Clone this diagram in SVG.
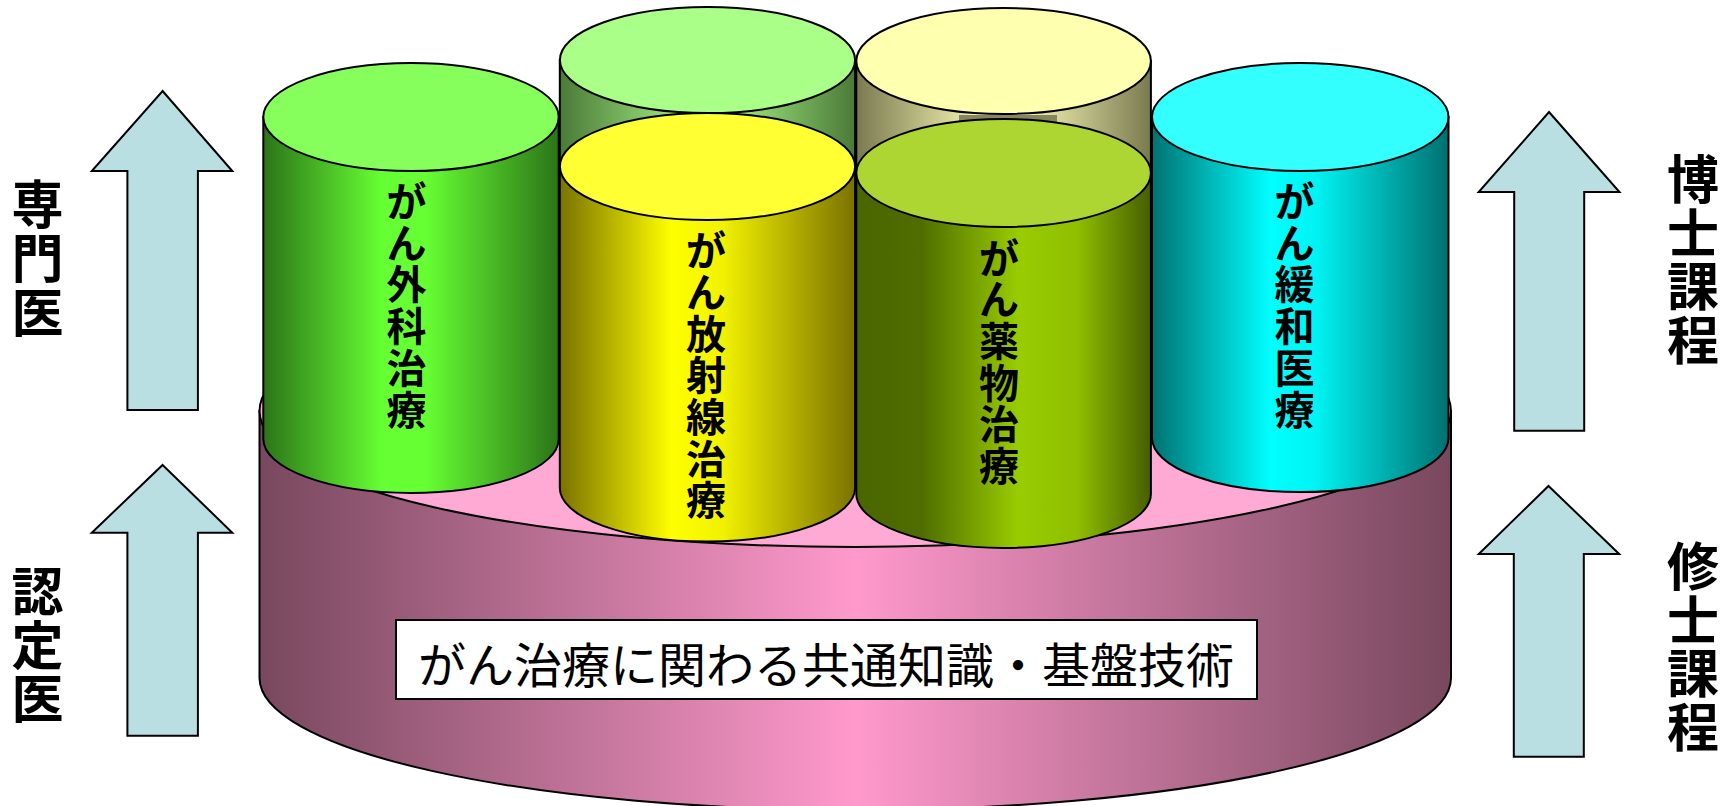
<svg xmlns="http://www.w3.org/2000/svg" width="1728" height="806" viewBox="0 0 1728 806">
<defs>
<style>
.ol{stroke:#000;stroke-width:2}
.arrow{fill:#badfe3;stroke:#000;stroke-width:2;stroke-linejoin:miter}
.lbl{font-family:"Noto Sans CJK JP","Noto Sans",sans-serif;font-weight:bold;font-size:52px;fill:#000;text-anchor:middle;dominant-baseline:central}
.cyl{font-family:"Noto Sans CJK JP","Noto Sans",sans-serif;font-weight:bold;font-size:40px;fill:#000;text-anchor:middle;dominant-baseline:central}
.base{font-family:"Noto Sans CJK JP","Noto Sans",sans-serif;font-size:48px;fill:#000;text-anchor:middle;dominant-baseline:central}
</style>
<linearGradient id="gPink" x1="0" x2="1" y1="0" y2="0">
<stop offset="0" stop-color="#78485e"/><stop offset="0.5" stop-color="#ff99cc"/><stop offset="1" stop-color="#78485e"/>
</linearGradient>
<linearGradient id="gGreen" x1="0" x2="1" y1="0" y2="0">
<stop offset="0" stop-color="#2c7418"/><stop offset="0.4" stop-color="#66ff33"/><stop offset="0.55" stop-color="#66ff33"/><stop offset="1" stop-color="#2c7418"/>
</linearGradient>
<linearGradient id="gLGreen" x1="0" x2="1" y1="0" y2="0">
<stop offset="0" stop-color="#4a7a38"/><stop offset="0.45" stop-color="#a8f486"/><stop offset="0.55" stop-color="#a8f486"/><stop offset="1" stop-color="#4a7a38"/>
</linearGradient>
<linearGradient id="gCream" x1="0" x2="1" y1="0" y2="0">
<stop offset="0" stop-color="#7a7a50"/><stop offset="0.45" stop-color="#ffffbb"/><stop offset="0.55" stop-color="#ffffbb"/><stop offset="1" stop-color="#7a7a50"/>
</linearGradient>
<linearGradient id="gYellow" x1="0" x2="1" y1="0" y2="0">
<stop offset="0" stop-color="#7a7200"/><stop offset="0.38" stop-color="#ffff00"/><stop offset="0.55" stop-color="#f2f200"/><stop offset="1" stop-color="#7a7200"/>
</linearGradient>
<linearGradient id="gYG" x1="0" x2="1" y1="0" y2="0">
<stop offset="0" stop-color="#4a6600"/><stop offset="0.22" stop-color="#4f6d00"/><stop offset="0.55" stop-color="#99cc00"/><stop offset="0.75" stop-color="#8fbf00"/><stop offset="1" stop-color="#465e00"/>
</linearGradient>
<linearGradient id="gTeal" x1="0" x2="1" y1="0" y2="0">
<stop offset="0" stop-color="#007272"/><stop offset="0.4" stop-color="#00ffff"/><stop offset="0.55" stop-color="#00f4f4"/><stop offset="1" stop-color="#007070"/>
</linearGradient>
</defs>
<rect width="1728" height="806" fill="#fff"/>

<g id="label-senmon"><text class="lbl"><tspan x="37.5" y="200.5">専</tspan><tspan x="37.5" y="255">門</tspan><tspan x="37.5" y="308.5">医</tspan></text></g>
<g id="label-nintei"><text class="lbl"><tspan x="37.5" y="588">認</tspan><tspan x="37.5" y="641.5">定</tspan><tspan x="37.5" y="695">医</tspan></text></g>
<g id="label-hakushi"><text class="lbl"><tspan x="1693" y="176">博</tspan><tspan x="1693" y="229.5">士</tspan><tspan x="1693" y="283">課</tspan><tspan x="1693" y="336.5">程</tspan></text></g>
<g id="label-shushi"><text class="lbl"><tspan x="1693" y="563">修</tspan><tspan x="1693" y="616.5">士</tspan><tspan x="1693" y="670">課</tspan><tspan x="1693" y="723.5">程</tspan></text></g>

<g id="arrow-left-top"><polygon class="arrow" points="162.6,91 232.3,171 197.9,171 197.9,410 127.4,410 127.4,171 91.8,171"/></g>
<g id="arrow-left-bottom"><polygon class="arrow" points="162.6,465 232.3,532.7 197.9,532.7 197.9,735.7 127.4,735.7 127.4,532.7 91.8,532.7"/></g>
<g id="arrow-right-top"><polygon class="arrow" points="1549,112 1619.5,192 1584.2,192 1584.2,430.7 1514.2,430.7 1514.2,192 1478.7,192"/></g>
<g id="arrow-right-bottom"><polygon class="arrow" points="1548.5,486 1619.2,554 1583.8,554 1583.8,756.7 1513.8,756.7 1513.8,554 1478.8,554"/></g>

<g id="base-cylinder">
<path class="ol" fill="url(#gPink)" d="M259.5,411 L259.5,678 A595.5,132 0 0 0 1451,678 L1451,411 Z"/>
<ellipse class="ol" cx="855.25" cy="411" rx="595.75" ry="136" fill="#ffaad4"/>
<rect x="396" y="620" width="861" height="79" fill="#fff" stroke="#000" stroke-width="2"/>
<text class="base" x="826" y="662">がん治療に関わる共通知識・基盤技術</text>
</g>

<g id="cyl-back-lightgreen">
<path class="ol" fill="url(#gLGreen)" d="M559.8,60 L559.8,300 A147.6,53 0 0 0 855.1,300 L855.1,60 Z"/>
<ellipse class="ol" cx="707.5" cy="60" rx="147.6" ry="53" fill="#aaff88"/>
</g>
<g id="cyl-back-cream">
<path class="ol" fill="url(#gCream)" d="M856.3,61 L856.3,300 A147.3,53 0 0 0 1150.9,300 L1150.9,61 Z"/>
<ellipse class="ol" cx="1003.6" cy="61" rx="147.3" ry="53" fill="#ffffb0"/>
<rect x="959" y="115" width="98" height="7" fill="#86865e"/>
</g>

<g id="cyl-surgery">
<path class="ol" fill="url(#gGreen)" d="M263.3,117 L263.3,439 A147.7,54 0 0 0 558.7,439 L558.7,117 Z"/>
<ellipse class="ol" cx="411" cy="117" rx="147.7" ry="54" fill="#86ff5c"/>
<text class="cyl"><tspan x="406.5" y="199">が</tspan><tspan x="406.5" y="240.7">ん</tspan><tspan x="406.5" y="282.4">外</tspan><tspan x="406.5" y="324.1">科</tspan><tspan x="406.5" y="365.8">治</tspan><tspan x="406.5" y="407.5">療</tspan></text>
</g>

<g id="cyl-palliative">
<path class="ol" fill="url(#gTeal)" d="M1152,117 L1152,438 A148,54 0 0 0 1448.5,438 L1448.5,117 Z"/>
<ellipse class="ol" cx="1300.25" cy="117" rx="148.25" ry="54" fill="#33ffff"/>
<text class="cyl"><tspan x="1294.5" y="199">が</tspan><tspan x="1294.5" y="240.7">ん</tspan><tspan x="1294.5" y="282.4">緩</tspan><tspan x="1294.5" y="324.1">和</tspan><tspan x="1294.5" y="365.8">医</tspan><tspan x="1294.5" y="407.5">療</tspan></text>
</g>

<g id="cyl-radiation">
<path class="ol" fill="url(#gYellow)" d="M559.8,166.5 L559.8,488 A147.6,53.5 0 0 0 855.1,488 L855.1,166.5 Z"/>
<ellipse class="ol" cx="707.5" cy="166.5" rx="147.6" ry="53.5" fill="#ffff33"/>
<text class="cyl"><tspan x="706" y="248.1">が</tspan><tspan x="706" y="289.8">ん</tspan><tspan x="706" y="331.5">放</tspan><tspan x="706" y="373.2">射</tspan><tspan x="706" y="414.9">線</tspan><tspan x="706" y="456.6">治</tspan><tspan x="706" y="498.3">療</tspan></text>
</g>

<g id="cyl-drug">
<path class="ol" fill="url(#gYG)" d="M856.3,173 L856.3,494 A147.3,54 0 0 0 1150.9,494 L1150.9,173 Z"/>
<ellipse class="ol" cx="1003.6" cy="173" rx="147.3" ry="54" fill="#add633"/>
<text class="cyl"><tspan x="999" y="255.5">が</tspan><tspan x="999" y="297.2">ん</tspan><tspan x="999" y="338.9">薬</tspan><tspan x="999" y="380.6">物</tspan><tspan x="999" y="422.3">治</tspan><tspan x="999" y="464">療</tspan></text>
</g>
</svg>
